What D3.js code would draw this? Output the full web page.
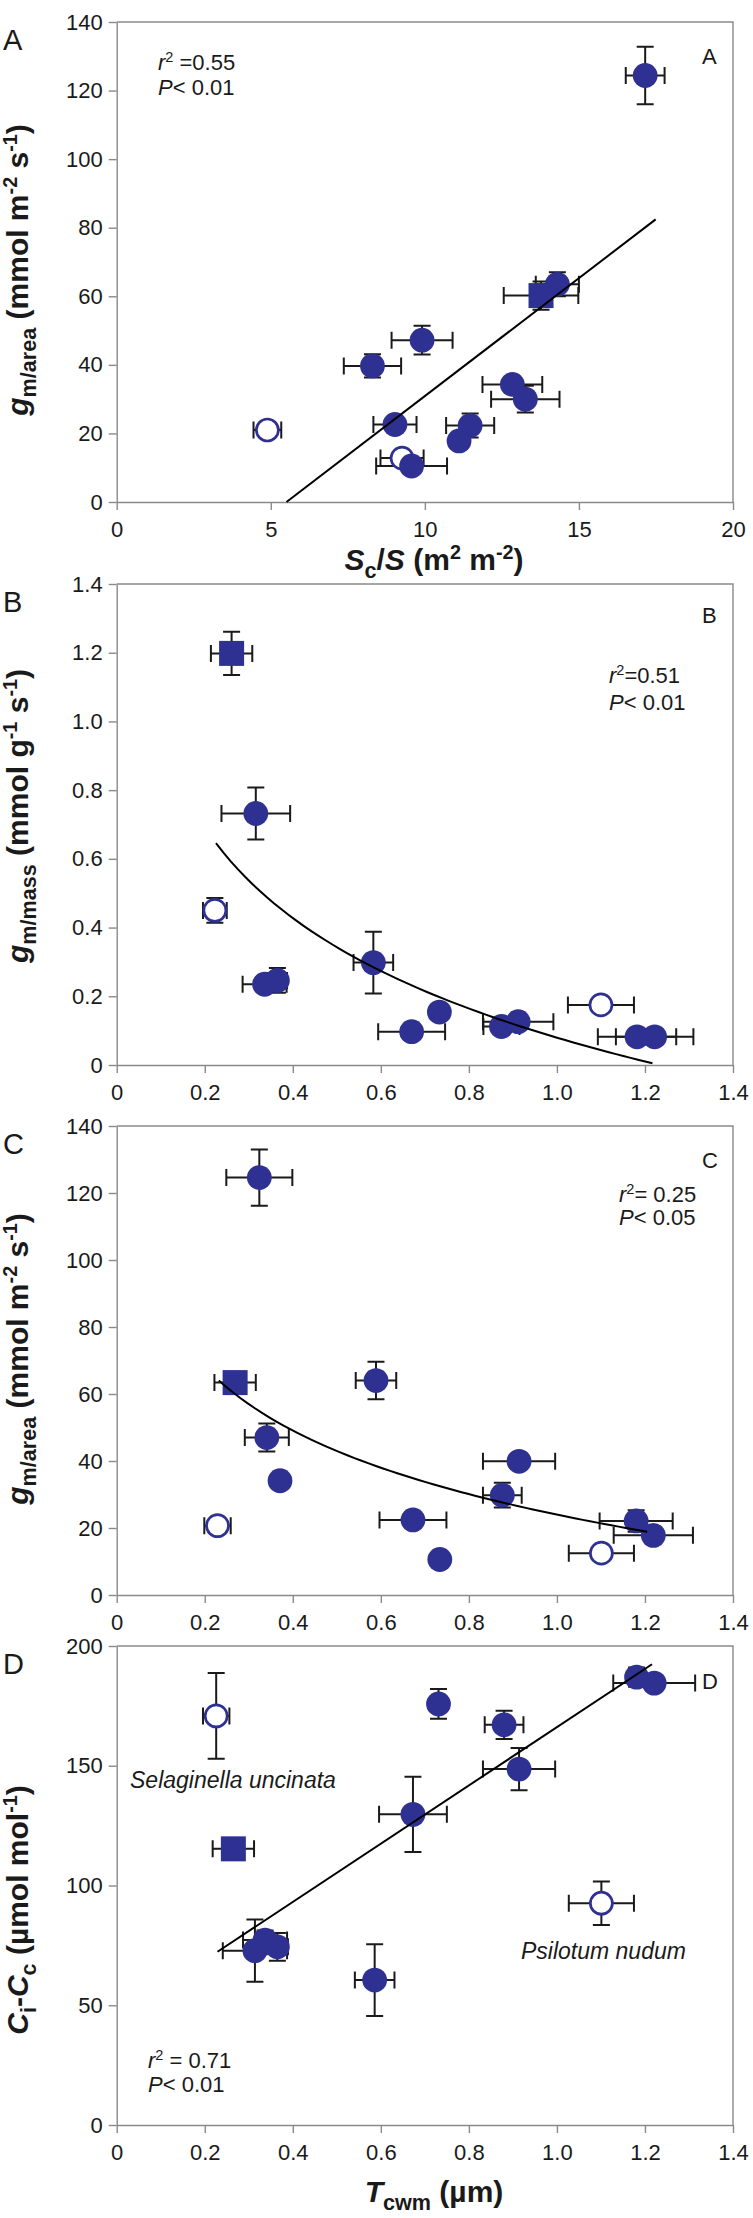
<!DOCTYPE html>
<html><head><meta charset="utf-8">
<script src="https://cdn.jsdelivr.net/npm/d3@7"></script>
<style>
body{margin:0;background:#fff}
svg{display:block}
text{font-family:"Liberation Sans",Arial,Helvetica,sans-serif}
</style>
</head><body>
<svg id="chart" width="753" height="2218"></svg>
<script>
// ---------------- DATA ----------------
// Panel A : Sc/S vs gm/area
const A_x     = [17.15, 13.77, 14.30, 9.91, 8.30, 12.84, 13.26, 11.47, 11.11, 9.03, 4.89, 9.26, 9.57];
const A_y     = [124.4, 60.2, 63.5, 47.2, 39.7, 34.3, 30.0, 22.3, 17.8, 22.6, 21.0, 12.8, 10.5];
const A_xerr  = [0.63, 1.21, 0.70, 0.99, 0.93, 0.97, 1.11, 0.78, 0, 0.70, 0.45, 0.70, 1.15];
const A_yerr  = [8.4, 4.1, 3.5, 4.2, 3.4, 0, 3.9, 3.5, 0, 0, 0, 0, 0];
const A_shape = ["filled","square","filled","filled","filled","filled","filled","filled","filled","filled","open","open","filled"];
const A_fit   = [6.88, -37.9, 5.51, 17.49];           // linear: slope, intercept, xStart, xEnd

// Panel B : Tcwm vs gm/mass
const B_x     = [0.261, 0.316, 0.223, 0.336, 0.365, 0.583, 0.733, 0.670, 0.874, 0.912, 1.100, 1.182, 1.222];
const B_y     = [1.198, 0.732, 0.450, 0.235, 0.246, 0.298, 0.154, 0.097, 0.112, 0.126, 0.175, 0.082, 0.082];
const B_xerr  = [0.047, 0.078, 0.027, 0.05, 0.022, 0.045, 0, 0.076, 0.041, 0.08, 0.075, 0.089, 0.088];
const B_yerr  = [0.063, 0.076, 0.036, 0, 0.036, 0.09, 0, 0, 0, 0, 0, 0, 0];
const B_shape = ["square","filled","open","filled","filled","filled","filled","filled","filled","filled","open","filled","filled"];
const B_fit   = [0.0796, -0.380, 0.2255, 1.217];      // logarithmic: a, b, xStart, xEnd

// Panel C : Tcwm vs gm/area
const C_x     = [0.324, 0.269, 0.589, 0.341, 0.371, 0.229, 0.673, 0.734, 0.914, 0.876, 1.180, 1.219, 1.101];
const C_y     = [124.6, 63.4, 64.0, 47.0, 34.1, 20.7, 22.4, 10.6, 39.9, 29.8, 22.1, 17.8, 12.5];
const C_xerr  = [0.075, 0.047, 0.046, 0.05, 0, 0.03, 0.076, 0, 0.082, 0.044, 0.083, 0.09, 0.074];
const C_yerr  = [8.4, 0, 5.6, 4.2, 0, 0, 0, 0, 1.5, 3.7, 3.2, 0, 0];
const C_shape = ["filled","square","filled","filled","filled","open","filled","filled","filled","filled","filled","filled","open"];
const C_fit   = [24.0, -27.4, 0.232, 1.205];          // logarithmic

// Panel D : Tcwm vs Ci-Cc
const D_x     = [0.226, 0.265, 0.731, 0.880, 0.914, 0.673, 1.181, 1.221, 0.586, 1.101, 0.314, 0.337, 0.365];
const D_y     = [170.8, 115.3, 175.8, 167.1, 148.6, 129.7, 187.0, 184.5, 60.5, 92.6, 72.8, 77.2, 74.4];
const D_xerr  = [0.03, 0.047, 0, 0.044, 0.082, 0.077, 0, 0.093, 0.045, 0.074, 0.073, 0.05, 0.024];
const D_yerr  = [17.9, 0, 6.2, 5.9, 8.8, 15.7, 4, 0, 15, 9.1, 13, 4, 5.8];
const D_shape = ["open","square","filled","filled","filled","filled","filled","filled","filled","open","filled","filled","filled"];
const D_fit   = [121.6, 44.5, 0.229, 1.216];          // linear

// Tick values
const ticksSc   = [0, 5, 10, 15, 20];
const ticksT    = [0, 0.2, 0.4, 0.6, 0.8, 1.0, 1.2, 1.4];
const ticksArea = [0, 20, 40, 60, 80, 100, 120, 140];
const ticksMass = [0, 0.2, 0.4, 0.6, 0.8, 1.0, 1.2, 1.4];
const ticksCi   = [0, 50, 100, 150, 200];

// ---------------- DRAW ----------------
const svg = d3.select("#chart");
svg.append("rect").attr("width",753).attr("height",2218).attr("fill","#fff");

const BLUE = "#2e3192", AXIS = "#8a8a8a", INK = "#1a1a1a";
const L = 116.7, R = 733;

function rich(sel, segs, size) {
  let shift = 0;
  segs.forEach(([t, s]) => {
    const ts = sel.append("tspan").text(t);
    let target = 0, fs = size;
    if (s === "sub") { target = size * 0.26; fs = size * 0.72; }
    if (s === "sup") { target = -size * 0.36; fs = size * 0.66; }
    if (s === "i") ts.attr("font-style", "italic");
    ts.attr("font-size", fs);
    if (target - shift !== 0) ts.attr("dy", target - shift);
    shift = target;
  });
}

function panel(cfg) {
  const g = svg.append("g");
  const x = d3.scaleLinear().domain(cfg.xDomain).range([L, R]);
  const y = d3.scaleLinear().domain(cfg.yDomain).range([cfg.bottom, cfg.top]);

  // frame (top/right)
  g.append("path")
    .attr("d", `M${L},${cfg.top}H${R}V${cfg.bottom}`)
    .attr("fill","none").attr("stroke",AXIS).attr("stroke-width",1.4);

  const fmtX = cfg.xFmt, fmtY = cfg.yFmt;
  const ax = g.append("g").attr("transform",`translate(0,${cfg.bottom})`)
    .call(d3.axisBottom(x).tickValues(cfg.xTicks).tickFormat(fmtX).tickSize(8).tickSizeOuter(0).tickPadding(11));
  const ay = g.append("g").attr("transform",`translate(${L},0)`)
    .call(d3.axisLeft(y).tickValues(cfg.yTicks).tickFormat(fmtY).tickSize(8).tickSizeOuter(0).tickPadding(6));
  [ax, ay].forEach(a => {
    a.select(".domain").attr("stroke",AXIS).attr("stroke-width",1.4);
    a.selectAll(".tick line").attr("stroke",AXIS).attr("stroke-width",1.4);
    a.selectAll(".tick text").attr("font-size",22).attr("fill",INK)
      .attr("font-family",'"Liberation Sans",Arial,sans-serif');
  });

  const n = cfg.xs.length;
  const idx = d3.range(n);
  const CAP = 8.5;
  const eb = g.append("g").attr("stroke",INK).attr("stroke-width",2).attr("fill","none");
  idx.forEach(i => {
    const cx = x(cfg.xs[i]), cy = y(cfg.ys[i]);
    if (cfg.xe[i] > 0) {
      const x1 = x(cfg.xs[i] - cfg.xe[i]), x2 = x(cfg.xs[i] + cfg.xe[i]);
      eb.append("path").attr("d",`M${x1},${cy}H${x2}M${x1},${cy-CAP}V${cy+CAP}M${x2},${cy-CAP}V${cy+CAP}`);
    }
    if (cfg.ye[i] > 0) {
      const y1 = y(cfg.ys[i] - cfg.ye[i]), y2 = y(cfg.ys[i] + cfg.ye[i]);
      eb.append("path").attr("d",`M${cx},${y1}V${y2}M${cx-CAP},${y1}H${cx+CAP}M${cx-CAP},${y2}H${cx+CAP}`);
    }
  });

  const mk = g.append("g");
  idx.forEach(i => {
    const cx = x(cfg.xs[i]), cy = y(cfg.ys[i]), s = cfg.shape[i];
    if (s === "square") {
      mk.append("rect").attr("x",cx-12.5).attr("y",cy-12.5).attr("width",25).attr("height",25).attr("fill",BLUE);
    } else if (s === "open") {
      mk.append("circle").attr("cx",cx).attr("cy",cy).attr("r",11).attr("fill","#fff")
        .attr("stroke",BLUE).attr("stroke-width",2.7);
    } else {
      mk.append("circle").attr("cx",cx).attr("cy",cy).attr("r",12.4).attr("fill",BLUE);
    }
  });

  // fit line
  const f = cfg.fit;
  let pts;
  if (cfg.fitType === "linear") {
    pts = [f[2], f[3]].map(v => [v, f[0] * v + f[1]]);
  } else {
    pts = d3.range(0, 61).map(k => { const v = f[2] + (f[3]-f[2]) * k / 60; return [v, f[0] + f[1] * Math.log(v)]; });
  }
  g.append("path").attr("d", d3.line().x(d => x(d[0])).y(d => y(d[1]))(pts))
    .attr("fill","none").attr("stroke","#000").attr("stroke-width",2);

  // panel letters
  g.append("text").attr("x",3).attr("y",cfg.top + 6 + 22).attr("font-size",29).attr("fill",INK).text(cfg.letter);
  g.append("text").attr("x",702).attr("y",cfg.letterY).attr("font-size",22).attr("fill",INK).text(cfg.letter);

  // stats
  const t1 = g.append("text").attr("x",cfg.statX).attr("y",cfg.statY).attr("fill",INK);
  rich(t1, [["r","i"],["2","sup"],[cfg.r2,""]], 22);
  const t2 = g.append("text").attr("x",cfg.statX).attr("y",cfg.statY + cfg.statGap).attr("fill",INK);
  rich(t2, [["P","i"],[cfg.p,""]], 22);

  // y title
  const yt = g.append("text").attr("transform",`translate(28,${cfg.yTitleC}) rotate(-90)`)
    .attr("text-anchor","middle").attr("font-weight","bold").attr("fill",INK);
  rich(yt, cfg.yTitle, 30);

  if (cfg.xTitle) {
    const xt = g.append("text").attr("x",434).attr("y",cfg.xTitleY)
      .attr("text-anchor","middle").attr("font-weight","bold").attr("fill",INK);
    rich(xt, cfg.xTitle, 30);
  }
  return {x, y, g};
}

const fmtT = d => d === 0 ? "0" : d3.format(".1f")(d);
const fmtI = d => String(d);

panel({top:22, bottom:502, xDomain:[0,20], yDomain:[0,140], xTicks:ticksSc, yTicks:ticksArea,
  xFmt:fmtI, yFmt:fmtI, xs:A_x, ys:A_y, xe:A_xerr, ye:A_yerr, shape:A_shape, fit:A_fit, fitType:"linear",
  letter:"A", letterY:64, statX:158, statY:70, statGap:25, r2:" =0.55", p:"< 0.01",
  yTitleC:270, yTitle:[["g","i"],["m/area","sub"],[" (mmol m",""],["-2","sup"],[" s",""],["-1","sup"],[")",""]],
  xTitle:[["S","i"],["c","sub"],["/",""],["S","i"],[" (m",""],["2","sup"],[" m",""],["-2","sup"],[")",""]], xTitleY:570});

panel({top:584, bottom:1065, xDomain:[0,1.4], yDomain:[0,1.4], xTicks:ticksT, yTicks:ticksMass,
  xFmt:fmtT, yFmt:fmtT, xs:B_x, ys:B_y, xe:B_xerr, ye:B_yerr, shape:B_shape, fit:B_fit, fitType:"log",
  letter:"B", letterY:623, statX:609, statY:683, statGap:27, r2:"=0.51", p:"< 0.01",
  yTitleC:816, yTitle:[["g","i"],["m/mass","sub"],[" (mmol g",""],["-1","sup"],[" s",""],["-1","sup"],[")",""]]});

panel({top:1126, bottom:1595, xDomain:[0,1.4], yDomain:[0,140], xTicks:ticksT, yTicks:ticksArea,
  xFmt:fmtT, yFmt:fmtI, xs:C_x, ys:C_y, xe:C_xerr, ye:C_yerr, shape:C_shape, fit:C_fit, fitType:"log",
  letter:"C", letterY:1168, statX:619, statY:1202, statGap:23, r2:"= 0.25", p:"< 0.05",
  yTitleC:1359, yTitle:[["g","i"],["m/area","sub"],[" (mmol m",""],["-2","sup"],[" s",""],["-1","sup"],[")",""]]});

const pd = panel({top:1646, bottom:2125, xDomain:[0,1.4], yDomain:[0,200], xTicks:ticksT, yTicks:ticksCi,
  xFmt:fmtT, yFmt:fmtI, xs:D_x, ys:D_y, xe:D_xerr, ye:D_yerr, shape:D_shape, fit:D_fit, fitType:"linear",
  letter:"D", letterY:1689, statX:148, statY:2068, statGap:24, r2:" = 0.71", p:"< 0.01",
  yTitleC:1910, yTitle:[["C","i"],["i","sub"],["-",""],["C","i"],["c","sub"],[" (µmol mol",""],["-1","sup"],[")",""]],
  xTitle:[["T","i"],["cwm","sub"],[" (µm)",""]], xTitleY:2202});

pd.g.append("text").attr("x",130).attr("y",1788).attr("font-size",23).attr("font-style","italic")
  .attr("fill",INK).text("Selaginella uncinata");
pd.g.append("text").attr("x",521).attr("y",1959).attr("font-size",23).attr("font-style","italic")
  .attr("fill",INK).text("Psilotum nudum");
</script>
</body></html>
